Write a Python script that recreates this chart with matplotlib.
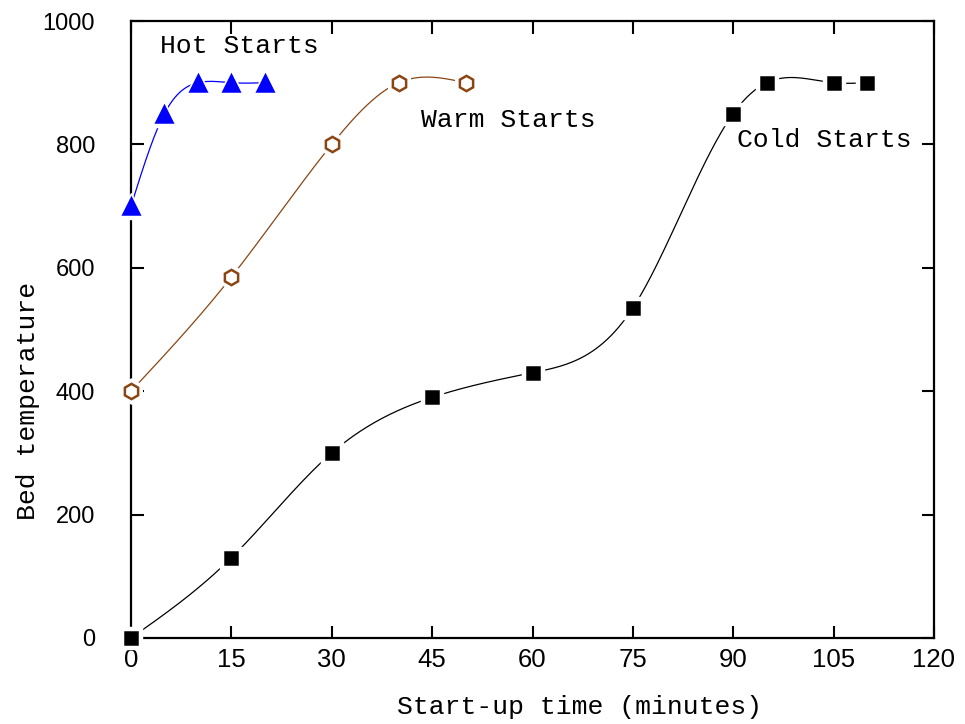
import numpy as np
import matplotlib
matplotlib.use("Agg")
import matplotlib.pyplot as plt
from matplotlib import font_manager

# ---- data ----
hot_x = [0, 5, 10, 15, 20]
hot_y = [700, 850, 900, 900, 900]
warm_x = [0, 15, 30, 40, 50]
warm_y = [400, 585, 800, 900, 900]
cold_x = [0, 15, 30, 45, 60, 75, 90, 95, 105, 110]
cold_y = [0, 130, 300, 390, 430, 535, 850, 900, 900, 900]
x_ticks = [0, 15, 30, 45, 60, 75, 90, 105, 120]
y_ticks = [0, 200, 400, 600, 800, 1000]


def spline_curve(x, y, n=400):
    x = np.asarray(x, float)
    y = np.asarray(y, float)
    m = len(x)
    h = np.diff(x)
    A = np.zeros((m, m))
    r = np.zeros(m)
    A[0, 0] = 1
    A[-1, -1] = 1
    for i in range(1, m - 1):
        A[i, i - 1] = h[i - 1]
        A[i, i] = 2 * (h[i - 1] + h[i])
        A[i, i + 1] = h[i]
        r[i] = 6 * ((y[i + 1] - y[i]) / h[i] - (y[i] - y[i - 1]) / h[i - 1])
    M = np.linalg.solve(A, r)
    xs = np.linspace(x[0], x[-1], n)
    idx = np.clip(np.searchsorted(x, xs) - 1, 0, m - 2)
    x0, x1 = x[idx], x[idx + 1]
    hh = x1 - x0
    a = (x1 - xs) / hh
    b = (xs - x0) / hh
    ys = (a * y[idx] + b * y[idx + 1]
          + ((a ** 3 - a) * M[idx] + (b ** 3 - b) * M[idx + 1]) * hh ** 2 / 6)
    return xs, ys


names = {f.name for f in font_manager.fontManager.ttflist}
narrow = 'Liberation Sans Narrow' if 'Liberation Sans Narrow' in names else 'Liberation Sans'
label_font = 'Liberation Mono'

fig = plt.figure(figsize=(9.65, 7.24), dpi=100)
ax = fig.add_axes([131 / 965, 1 - 638 / 724, 803 / 965, 617 / 724])

series = [
    (hot_x, hot_y, '#0000FF', '^', 12, '#0000FF', '#0000FF'),
    (warm_x, warm_y, '#8B4513', 'h', 11, 'white', '#8B4513'),
    (cold_x, cold_y, 'black', 's', 8.8, 'black', 'black'),
]
for xs_, ys_, col, mk, ms, fc, ec in series:
    sx, sy = spline_curve(xs_, ys_)
    ax.plot(sx, sy, color=col, lw=0.9, zorder=2, clip_on=False)
    ax.plot(xs_, ys_, ls='none', marker=mk, ms=ms + 7, mfc='white', mec='white',
            zorder=3, clip_on=False)
    ax.plot(xs_, ys_, ls='none', marker=mk, ms=ms, mfc=fc, mec=ec, mew=1.8,
            zorder=4, clip_on=False)

ax.set_xlim(0, 120)
ax.set_ylim(0, 1000)
ax.set_xticks(x_ticks)
ax.set_yticks(y_ticks)
ax.set_xticklabels([str(v) for v in x_ticks], fontfamily=[narrow, 'DejaVu Sans'],
                   fontsize=21 if narrow.endswith('Narrow') else 18.5)
ax.set_yticklabels([str(v) for v in y_ticks], fontfamily=['Liberation Sans', 'DejaVu Sans'],
                   fontsize=17)
ax.tick_params(axis='x', which='major', direction='in', length=9, width=1.5,
               top=True, pad=7)
ax.tick_params(axis='y', which='major', direction='in', length=9, width=1.5,
               right=True, pad=26)
for sp in ax.spines.values():
    sp.set_linewidth(1.6)

ax.text(0.559, -0.112, 'Start-up time (minutes)', transform=ax.transAxes,
        ha='center', va='center', fontsize=19, fontfamily=label_font)
ax.text(-0.128, 0.384, 'Bed temperature', transform=ax.transAxes, rotation=90,
        ha='center', va='center', fontsize=19, fontfamily=label_font)

ax.text(4.3, 960, 'Hot Starts', ha='left', va='center', fontsize=19, fontfamily=label_font)
ax.text(43.3, 840, 'Warm Starts', ha='left', va='center', fontsize=19, fontfamily=label_font)
ax.text(90.6, 807, 'Cold Starts', ha='left', va='center', fontsize=19, fontfamily=label_font)

fig.savefig('out.png', dpi=100)
